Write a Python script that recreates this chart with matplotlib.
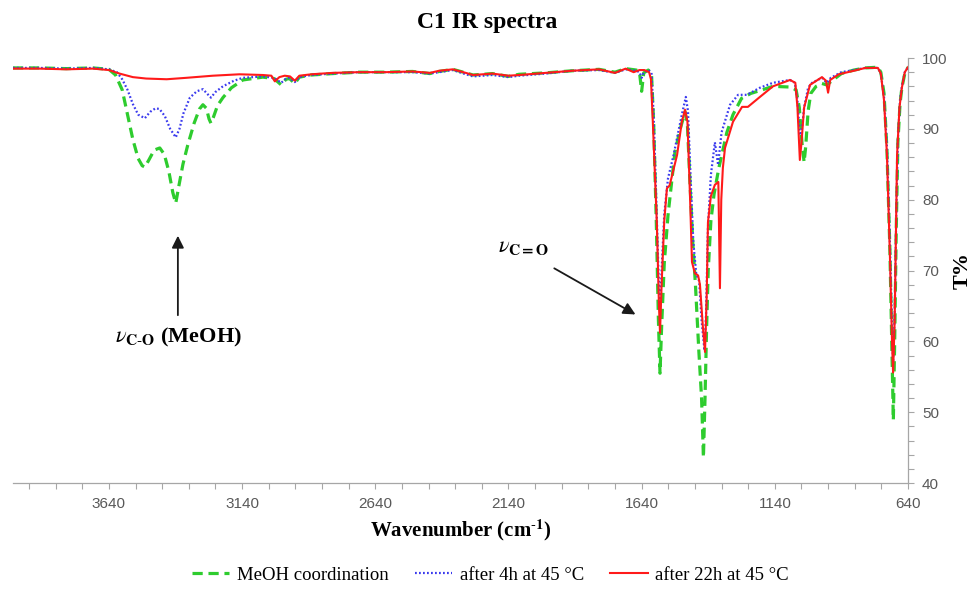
#!/usr/bin/env python3
"""Plot the C1 IR spectra (MeOH coordination vs. heating at 45 C)."""

import matplotlib

matplotlib.use("Agg")
import matplotlib.pyplot as plt
from matplotlib.ticker import MultipleLocator, FixedLocator

# wavenumber (cm-1) / transmittance (%)
green_wn = [4000, 3900, 3800, 3700, 3640, 3615, 3590, 3570, 3550, 3530, 3515, 3505, 3490, 3470,
            3449, 3432, 3415, 3400, 3389, 3378, 3362, 3344, 3320, 3300, 3287, 3274, 3264, 3257,
            3248, 3232, 3212, 3180, 3137, 3062, 3020, 2993, 2975, 2962, 2942, 2925, 2880, 2800,
            2700, 2600, 2500, 2435, 2400, 2349, 2300, 2273, 2200, 2140, 2100, 2000, 1900, 1800,
            1740, 1700, 1660, 1648, 1640, 1632, 1615, 1603, 1595, 1585, 1577, 1571, 1565, 1555,
            1541, 1515, 1495, 1477, 1468, 1458, 1448, 1438, 1425, 1415, 1408, 1402, 1396, 1390,
            1380, 1368, 1350, 1320, 1297, 1265, 1230, 1196, 1147, 1083, 1060, 1048, 1038, 1030,
            1024, 1015, 1005, 985, 963, 945, 925, 890, 843, 800, 753, 742, 730, 719, 708, 700,
            695, 690, 684, 678, 670, 663, 652, 640]
green_t = [98.6, 98.6, 98.5, 98.6, 98.4, 97.6, 95.5, 92.0, 88.5, 85.8, 84.8, 84.6, 85.6, 87.0,
           87.3, 86.4, 84.0, 81.0, 79.5, 81.8, 85.0, 87.7, 90.8, 92.8, 93.4, 92.9, 91.4, 90.8,
           91.6, 93.3, 94.4, 95.8, 96.9, 97.3, 97.1, 96.2, 97.0, 97.1, 96.4, 97.3, 97.6, 97.8,
           98.0, 98.0, 98.1, 97.8, 98.1, 98.4, 97.9, 97.6, 97.8, 97.4, 97.7, 97.9, 98.2, 98.4,
           98.0, 98.5, 98.3, 98.0, 95.3, 97.9, 98.3, 97.8, 91.0, 77.0, 63.0, 55.5, 62.0, 71.0,
           77.8, 86.7, 90.0, 92.4, 90.5, 82.0, 74.0, 68.0, 58.5, 52.0, 43.6, 52.0, 62.0, 70.0,
           77.0, 80.8, 84.5, 89.5, 92.0, 94.3, 95.0, 95.4, 96.0, 95.9, 95.5, 93.0, 88.0, 85.3,
           87.5, 92.5, 95.0, 96.0, 96.4, 96.2, 96.8, 97.8, 98.3, 98.6, 98.7, 98.0, 95.0, 87.0,
           73.0, 58.0, 48.9, 60.0, 76.0, 88.0, 93.5, 95.8, 97.8, 98.7]

blue_wn = [4000, 3900, 3800, 3700, 3640, 3610, 3590, 3570, 3550, 3530, 3505, 3485, 3465, 3450,
           3430, 3410, 3389, 3375, 3360, 3336, 3310, 3287, 3272, 3257, 3240, 3212, 3170, 3137,
           3062, 3020, 2993, 2975, 2962, 2942, 2925, 2880, 2800, 2700, 2600, 2500, 2435, 2400,
           2349, 2300, 2273, 2200, 2140, 2100, 2000, 1900, 1800, 1740, 1700, 1660, 1648, 1640,
           1632, 1615, 1603, 1595, 1585, 1577, 1571, 1565, 1555, 1541, 1520, 1500, 1489, 1474,
           1466, 1456, 1446, 1435, 1424, 1415, 1404, 1398, 1391, 1380, 1365, 1353, 1340, 1308,
           1278, 1245, 1196, 1147, 1083, 1065, 1055, 1046, 1038, 1030, 1015, 1000, 963, 945,
           930, 890, 843, 800, 753, 742, 730, 719, 708, 700, 696, 690, 684, 678, 670, 663, 652,
           640]
blue_t = [98.6, 98.6, 98.5, 98.6, 98.4, 98.0, 97.0, 95.5, 93.5, 92.0, 91.5, 92.4, 92.9, 92.8,
          91.8, 90.0, 88.8, 90.0, 92.2, 94.4, 95.3, 95.6, 95.0, 94.4, 95.2, 96.0, 96.8, 97.2,
          97.4, 97.2, 96.5, 97.1, 97.2, 96.6, 97.3, 97.6, 97.8, 98.0, 98.0, 98.0, 97.8, 98.0,
          98.3, 97.7, 97.4, 97.6, 97.3, 97.5, 97.8, 98.2, 98.3, 97.9, 98.4, 98.2, 98.0, 97.2,
          98.0, 98.3, 97.9, 92.0, 80.0, 70.0, 64.7, 70.0, 78.0, 83.0, 86.3, 90.0, 92.0, 94.5,
          92.5, 83.0, 74.0, 69.5, 68.5, 63.0, 58.7, 64.0, 76.0, 83.5, 88.1, 84.9, 89.5, 93.4,
          94.8, 94.8, 95.8, 96.5, 96.9, 96.5, 94.0, 89.1, 90.0, 93.0, 95.8, 96.5, 97.2, 96.5,
          97.2, 98.0, 98.3, 98.6, 98.6, 97.8, 94.5, 87.5, 74.0, 62.0, 57.0, 64.0, 78.0, 88.5,
          94.0, 96.0, 98.0, 98.7]

red_wn = [4000, 3900, 3800, 3700, 3640, 3600, 3550, 3500, 3423, 3350, 3250, 3150, 3062, 3030,
          3017, 3000, 2980, 2960, 2942, 2925, 2880, 2800, 2700, 2600, 2500, 2435, 2400, 2349,
          2300, 2273, 2200, 2140, 2100, 2000, 1900, 1800, 1740, 1700, 1670, 1648, 1630, 1612,
          1605, 1598, 1583, 1575, 1571, 1565, 1555, 1545, 1535, 1507, 1489, 1477, 1468, 1458,
          1451, 1440, 1428, 1421, 1410, 1402, 1396, 1391, 1380, 1365, 1352, 1346, 1341, 1335,
          1327, 1297, 1263, 1241, 1196, 1147, 1083, 1063, 1055, 1046, 1040, 1030, 1008, 963,
          948, 940, 932, 900, 843, 800, 753, 742, 730, 719, 708, 700, 696, 690, 681, 672, 663,
          652, 640]
red_t = [98.5, 98.5, 98.4, 98.5, 98.3, 97.8, 97.3, 97.1, 97.0, 97.2, 97.5, 97.7, 97.6, 97.5,
         96.7, 97.3, 97.5, 97.4, 96.8, 97.5, 97.7, 97.9, 98.0, 98.0, 98.1, 97.9, 98.2, 98.4,
         97.9, 97.6, 97.8, 97.5, 97.6, 97.9, 98.2, 98.4, 97.9, 98.5, 98.0, 98.3, 98.3, 98.0,
         97.0, 91.0, 76.8, 65.1, 61.2, 68.0, 77.0, 81.6, 82.0, 86.3, 91.0, 92.7, 91.0, 80.0,
         71.2, 69.6, 69.3, 68.0, 62.0, 58.5, 66.0, 76.8, 80.5, 82.1, 82.5, 67.5, 80.0, 84.5,
         87.3, 91.0, 93.1, 93.1, 94.5, 96.0, 96.9, 96.5, 93.0, 85.6, 88.0, 93.0, 96.2, 97.3,
         96.8, 95.1, 96.9, 97.7, 98.2, 98.6, 98.6, 97.8, 94.0, 86.3, 72.2, 60.0, 55.6, 63.0,
         86.3, 93.0, 95.8, 98.0, 98.7]

series_labels = ["MeOH coordination", "after 4h at 45 °C", "after 22h at 45 °C"]
x_ticks = [3640, 3140, 2640, 2140, 1640, 1140, 640]
y_ticks = [40, 50, 60, 70, 80, 90, 100]

SERIF = ["Liberation Serif", "DejaVu Serif"]
AXIS_GREY = "#a6a6a6"
LABEL_GREY = "#595959"


def draw():
    plt.rcParams["mathtext.fontset"] = "stix"
    fig = plt.figure(figsize=(9.75, 5.91), dpi=100)
    ax = fig.add_axes([0.01333, 0.18274, 0.91795, 0.71912])

    ax.plot(green_wn, green_t, color="#2ecc2e", lw=2.3, dashes=(3.2, 1.8),
            label=series_labels[0], zorder=2)
    ax.plot(blue_wn, blue_t, color="#3a3aee", lw=1.6, dashes=(0.8, 1.0),
            label=series_labels[1], zorder=3)
    ax.plot(red_wn, red_t, color="#ff1a1a", lw=1.5, label=series_labels[2], zorder=4)

    ax.set_xlim(4000, 640)
    ax.set_ylim(40, 100)

    # only bottom + right axis, like the Excel original
    for side in ("left", "top"):
        ax.spines[side].set_visible(False)
    for side in ("bottom", "right"):
        ax.spines[side].set_color(AXIS_GREY)
        ax.spines[side].set_linewidth(0.9)

    ax.yaxis.tick_right()
    ax.xaxis.set_major_locator(FixedLocator(x_ticks))
    ax.xaxis.set_minor_locator(MultipleLocator(100, offset=40))
    ax.yaxis.set_major_locator(FixedLocator(y_ticks))
    ax.yaxis.set_minor_locator(MultipleLocator(2))
    ax.tick_params(axis="both", which="both", direction="out", length=4, width=0.8,
                   color=AXIS_GREY)
    ax.tick_params(axis="x", which="major", pad=6, labelsize=11, labelcolor=LABEL_GREY)
    ax.tick_params(axis="y", which="major", pad=6, labelsize=11, labelcolor=LABEL_GREY)
    for lab in ax.get_xticklabels() + ax.get_yticklabels():
        lab.set_family("Liberation Sans")

    ax.set_xlabel(r"Wavenumber (cm$^{\text{-}\mathbf{1}}$)", family=SERIF, fontsize=15,
                  fontweight="bold", labelpad=5)
    ax.set_ylabel("T%", family=SERIF, fontsize=16, fontweight="bold")
    ax.yaxis.set_label_coords(1.072, 0.5)

    fig.text(0.4995, 0.962, "C1 IR spectra", family=SERIF, fontsize=17, fontweight="bold",
             ha="center", va="center")

    # band assignments
    ax.annotate("", xy=(3381, 75.3), xytext=(3381, 63.3),
                arrowprops=dict(arrowstyle="-|>", color="#1a1a1a", lw=1.3, mutation_scale=18))
    ax.text(3618, 59.9, r"$\nu_{\mathbf{C}\text{-}\mathbf{O}}$ (MeOH)", family=SERIF,
            fontsize=16, fontweight="bold", ha="left", va="baseline")
    ax.annotate("", xy=(1654, 63.6), xytext=(1977, 70.5),
                arrowprops=dict(arrowstyle="-|>", color="#1a1a1a", lw=1.3, mutation_scale=18))
    ax.text(2180, 72.6, r"$\nu_{\mathbf{C=O}}$", family=SERIF, fontsize=16,
            ha="left", va="baseline")

    fig.legend(loc="center", bbox_to_anchor=(0.503, 0.027), ncol=3, frameon=False,
               prop={"family": SERIF, "size": 13.5}, handlelength=2.0, handletextpad=0.4,
               columnspacing=1.4)

    fig.savefig("out.png", dpi=100)
    plt.close(fig)


if __name__ == "__main__":
    draw()
